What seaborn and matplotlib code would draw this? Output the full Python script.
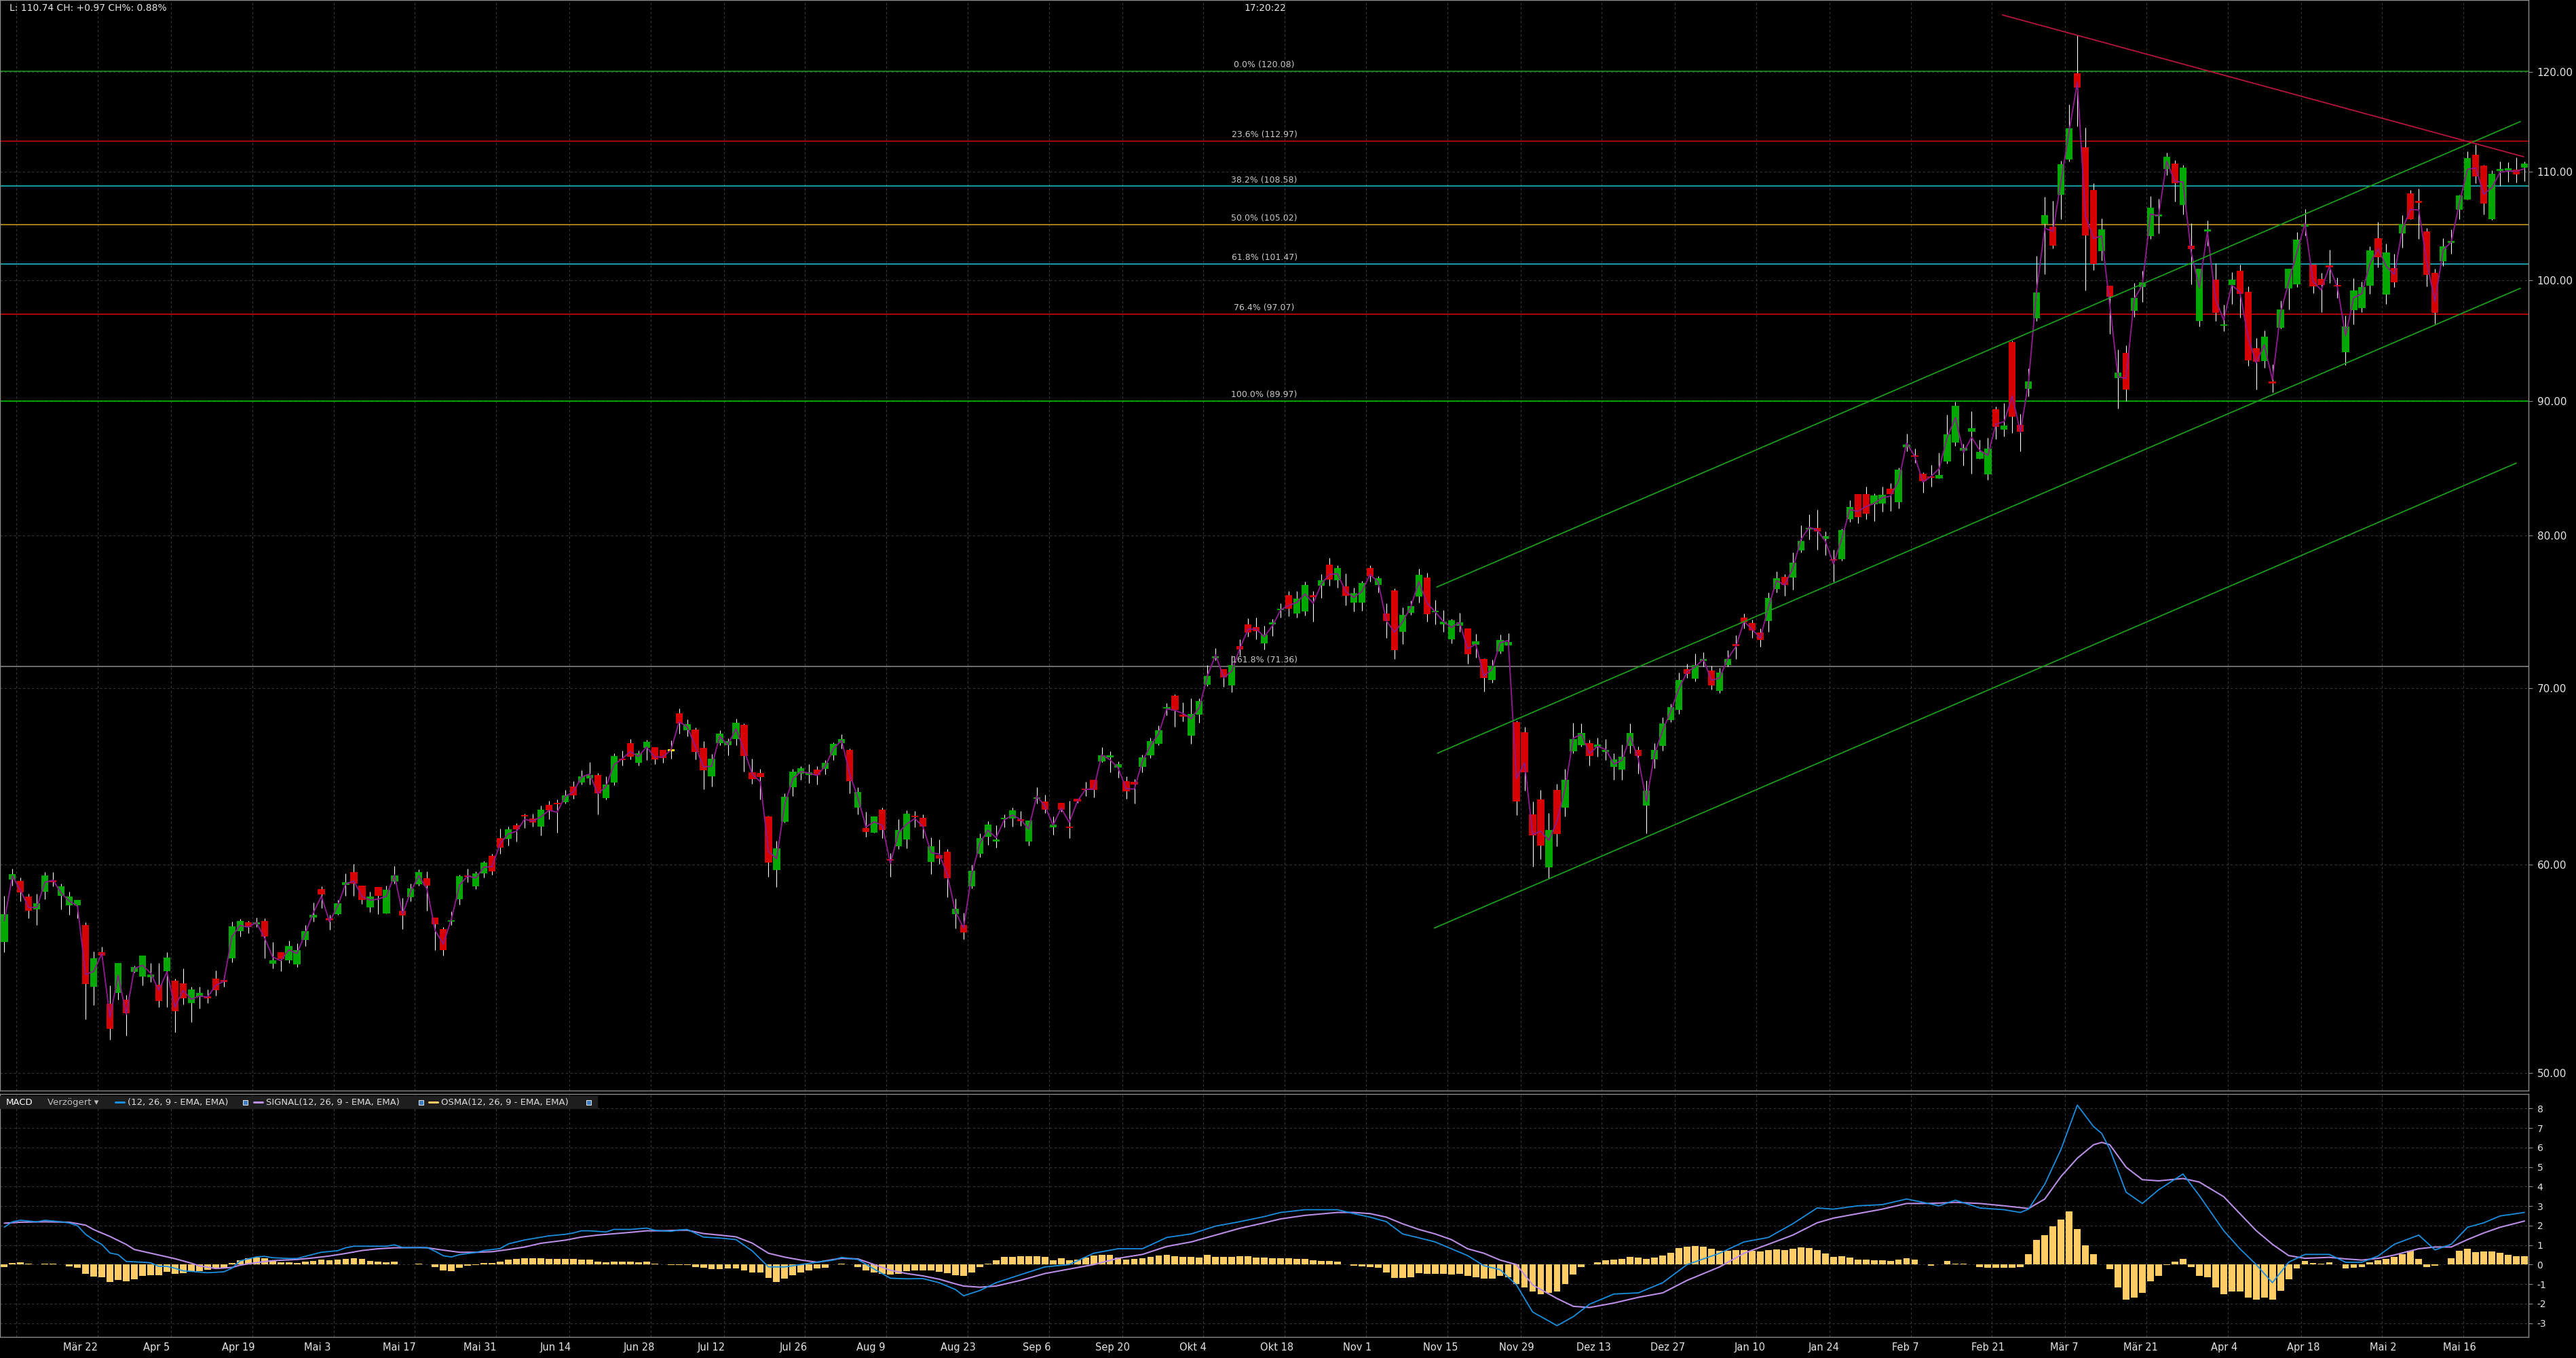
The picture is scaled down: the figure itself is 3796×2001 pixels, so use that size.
"""
Daily candlestick chart with Fibonacci levels, trend channel and MACD panel
"""

import numpy as np
import matplotlib
matplotlib.use("Agg")
import matplotlib.pyplot as plt
from matplotlib.patches import Rectangle
from matplotlib.ticker import NullLocator
import seaborn as sns

# ---------------------------------------------------------------- price data
opens = [
    56.08, 59.21, 59.14, 58.33, 57.68, 58.58, 59.18, 58.37, 57.89, 57.89,
    56.90, 53.91, 55.57, 53.11, 53.62, 53.30, 54.62, 54.39, 54.36, 54.01,
    54.65, 54.20, 54.07, 53.14, 53.43, 53.43, 54.30, 54.23, 55.27, 56.60,
    57.03, 56.93, 57.10, 55.01, 55.57, 55.17, 54.97, 56.17, 57.27, 58.72,
    57.20, 57.44, 58.93, 59.60, 58.90, 57.78, 58.82, 57.48, 59.10, 57.61,
    58.30, 58.96, 59.28, 57.27, 56.70, 57.07, 58.19, 59.42, 58.86, 59.53,
    60.45, 61.38, 61.34, 62.08, 62.64, 62.46, 62.01, 63.19, 63.27, 63.34,
    64.23, 64.46, 64.70, 64.86, 63.57, 64.46, 65.81, 66.73, 65.57, 66.44,
    66.48, 66.32, 66.24, 68.48, 67.47, 67.51, 66.44, 64.82, 66.72, 66.60,
    66.97, 67.79, 65.02, 64.98, 62.57, 59.70, 62.27, 64.19, 64.94, 64.86,
    65.17, 65.21, 66.01, 66.72, 66.32, 63.04, 61.94, 61.68, 62.96, 60.27,
    60.96, 61.31, 62.61, 62.49, 60.13, 60.49, 60.67, 57.44, 56.90, 58.86,
    60.56, 61.46, 61.23, 62.42, 62.46, 62.42, 61.23, 63.53, 63.38, 61.97,
    63.30, 61.97, 63.53, 64.11, 64.61, 65.65, 65.89, 65.29, 64.53, 64.49,
    65.33, 66.01, 66.68, 68.76, 69.53, 68.36, 67.15, 68.40, 70.20, 71.85,
    71.16, 70.16, 72.62, 74.01, 73.83, 72.80, 74.01, 74.94, 75.92, 74.72,
    74.85, 75.92, 76.56, 77.97, 76.93, 76.51, 75.44, 75.44, 77.75, 76.61,
    74.72, 76.25, 73.53, 74.76, 75.83, 77.11, 74.81, 74.01, 73.07, 73.92,
    73.75, 72.71, 71.81, 70.50, 72.27, 72.67, 67.95, 67.35, 62.68, 63.50,
    59.85, 64.03, 63.04, 66.24, 66.60, 66.72, 66.48, 66.20, 65.33, 65.17,
    66.56, 66.32, 63.15, 65.77, 66.56, 68.07, 68.68, 71.16, 70.58, 71.68,
    71.08, 69.82, 71.42, 72.75, 74.45, 74.10, 73.49, 74.23, 76.34, 77.16,
    77.11, 78.96, 80.42, 80.52, 79.76, 78.34, 78.34, 81.15, 82.93, 82.93,
    82.23, 82.28, 83.34, 82.38, 86.42, 85.80, 84.44, 84.24, 84.09, 85.33,
    86.78, 86.16, 87.61, 85.54, 84.39, 89.34, 87.76, 94.75, 88.13, 90.94,
    96.74, 105.06, 104.81, 107.77, 111.17, 119.86, 112.35, 108.22, 102.59, 99.52,
    91.81, 93.84, 97.38, 99.40, 103.94, 105.75, 110.24, 110.77, 106.82, 103.08,
    96.50, 104.38, 100.06, 96.10, 99.58, 100.84, 99.00, 94.24, 93.16, 91.49,
    95.93, 99.28, 99.64, 104.81, 101.38, 100.12, 101.26, 99.58, 93.89, 97.43,
    97.61, 99.52, 103.76, 98.76, 101.08, 104.19, 107.90, 107.08, 104.38, 100.66,
    101.68, 103.33, 106.38, 107.33, 111.63, 110.57, 105.50, 110.04, 110.11, 110.17, 110.37,
]
highs = [
    58.37, 59.77, 59.32, 58.47, 58.47, 59.60, 59.60, 59.00, 58.58, 58.16,
    57.03, 55.60, 55.84, 53.98, 55.04, 53.53, 54.90, 55.41, 55.04, 55.04,
    55.57, 54.30, 54.78, 53.91, 53.91, 53.78, 54.68, 54.46, 57.07, 57.20,
    57.10, 57.27, 57.24, 56.07, 55.57, 56.13, 56.00, 56.90, 58.02, 58.86,
    57.41, 58.16, 59.53, 60.03, 58.90, 58.58, 58.82, 58.90, 59.92, 58.26,
    59.00, 59.74, 59.63, 57.27, 56.80, 57.58, 59.46, 59.77, 59.63, 60.16,
    60.56, 61.90, 62.01, 62.20, 62.72, 62.72, 63.15, 63.42, 63.49, 64.03,
    64.53, 65.13, 65.61, 64.98, 64.82, 66.13, 66.28, 66.97, 66.28, 66.93,
    66.48, 66.32, 66.89, 68.76, 68.11, 67.63, 66.85, 66.09, 67.47, 67.01,
    68.15, 67.87, 65.81, 65.21, 62.61, 61.25, 63.84, 65.21, 65.37, 65.49,
    65.37, 65.73, 66.77, 67.23, 66.40, 64.19, 62.83, 62.57, 63.07, 60.60,
    62.42, 62.89, 62.86, 62.68, 61.42, 61.31, 60.81, 58.23, 57.51, 59.99,
    61.64, 62.31, 62.08, 62.68, 63.04, 62.86, 62.34, 64.19, 63.76, 62.57,
    63.30, 63.42, 63.53, 64.49, 64.61, 66.48, 66.24, 65.65, 64.82, 64.65,
    66.05, 67.05, 67.75, 69.09, 69.61, 69.13, 69.36, 69.36, 71.42, 72.49,
    71.16, 72.02, 73.07, 74.41, 74.45, 73.92, 74.37, 75.39, 76.20, 76.20,
    76.84, 76.20, 77.34, 78.44, 77.93, 77.39, 76.43, 76.89, 77.93, 77.21,
    75.39, 76.38, 75.12, 75.57, 77.71, 77.43, 75.61, 74.94, 74.37, 74.76,
    73.75, 73.40, 71.85, 71.76, 73.36, 73.45, 68.03, 67.67, 63.38, 64.03,
    62.75, 64.38, 65.21, 67.91, 67.87, 66.93, 67.05, 66.97, 66.13, 66.64,
    67.87, 66.52, 64.57, 66.72, 68.23, 69.05, 70.95, 71.50, 72.15, 72.23,
    71.38, 71.25, 72.36, 73.32, 74.72, 74.32, 73.75, 76.11, 77.52, 77.34,
    78.82, 80.71, 81.49, 81.83, 80.28, 79.01, 80.47, 82.52, 82.93, 83.49,
    82.98, 83.49, 83.74, 84.90, 87.45, 86.31, 84.54, 85.09, 86.00, 88.92,
    89.93, 86.68, 89.19, 86.98, 87.14, 89.55, 89.82, 94.86, 88.97, 92.58,
    102.15, 107.58, 107.21, 111.04, 116.66, 123.92, 114.30, 108.87, 105.56, 99.52,
    94.12, 94.46, 99.76, 100.84, 107.64, 107.39, 111.83, 111.10, 110.64, 105.12,
    101.02, 105.37, 101.50, 97.90, 100.72, 101.38, 99.46, 95.08, 95.70, 92.91,
    98.25, 101.02, 104.31, 106.44, 101.38, 100.66, 102.71, 100.24, 96.97, 100.18,
    99.88, 103.02, 105.25, 103.26, 102.34, 105.88, 108.22, 108.35, 104.69, 101.02,
    103.76, 104.56, 107.77, 111.96, 112.63, 110.64, 110.11, 110.97, 110.90, 111.37, 110.97,
]
lows = [
    55.57, 58.90, 58.09, 57.24, 56.90, 58.19, 58.86, 57.68, 57.41, 57.24,
    52.40, 53.06, 55.24, 51.47, 53.30, 51.65, 54.59, 53.98, 54.14, 52.96,
    52.96, 51.80, 53.08, 52.27, 52.90, 53.14, 53.49, 53.91, 55.08, 56.33,
    56.50, 56.80, 55.27, 54.78, 54.65, 55.04, 54.84, 55.87, 57.07, 57.75,
    56.66, 57.41, 58.37, 58.37, 57.96, 57.55, 57.44, 57.48, 59.00, 56.70,
    58.09, 58.90, 57.61, 55.67, 55.41, 56.90, 57.92, 59.07, 58.72, 59.32,
    59.46, 60.56, 61.00, 61.23, 61.94, 62.01, 61.53, 62.42, 61.68, 63.27,
    63.53, 64.34, 64.34, 62.68, 63.50, 64.30, 65.41, 65.77, 65.41, 65.73,
    65.49, 65.57, 65.81, 67.27, 67.11, 65.77, 64.07, 64.23, 66.60, 66.00,
    66.60, 65.09, 64.38, 63.50, 59.35, 58.82, 62.23, 63.69, 64.61, 64.42,
    64.34, 64.90, 65.73, 66.40, 63.84, 62.68, 61.46, 61.68, 61.38, 59.35,
    60.81, 60.85, 61.97, 61.38, 59.49, 60.02, 58.30, 56.73, 56.20, 58.75,
    60.38, 61.04, 60.89, 61.97, 62.01, 62.05, 61.00, 63.27, 62.75, 61.57,
    62.83, 61.38, 63.30, 63.69, 63.61, 65.61, 65.02, 64.74, 63.53, 63.27,
    65.05, 65.85, 66.60, 68.36, 67.67, 67.99, 66.68, 67.91, 70.12, 71.72,
    70.08, 69.74, 72.02, 73.23, 73.07, 72.41, 73.27, 74.45, 74.54, 74.45,
    74.59, 74.19, 75.74, 76.56, 76.43, 75.26, 74.85, 74.90, 76.84, 76.11,
    73.15, 71.81, 72.75, 74.63, 75.44, 74.19, 74.01, 73.53, 72.80, 73.53,
    71.50, 71.89, 69.78, 70.33, 72.15, 72.62, 62.64, 64.00, 59.88, 60.27,
    59.25, 60.96, 62.57, 66.13, 66.52, 65.41, 65.91, 65.73, 64.61, 64.61,
    66.13, 64.94, 61.64, 65.25, 66.28, 67.95, 68.44, 70.62, 70.41, 71.33,
    69.91, 69.70, 71.33, 71.81, 73.75, 73.15, 72.58, 73.53, 76.11, 75.88,
    76.29, 78.82, 79.72, 79.01, 78.63, 76.84, 78.25, 80.95, 80.86, 81.15,
    81.00, 81.68, 81.73, 81.93, 86.11, 85.24, 83.07, 83.49, 84.09, 85.19,
    86.52, 85.04, 84.44, 85.54, 83.99, 87.04, 87.24, 87.50, 86.11, 90.35,
    96.50, 100.54, 102.83, 105.50, 110.97, 114.43, 99.10, 100.90, 101.74, 95.42,
    89.39, 89.98, 96.86, 98.13, 103.70, 104.19, 109.65, 107.14, 105.94, 99.64,
    96.04, 103.08, 96.50, 95.64, 97.96, 96.80, 92.80, 90.89, 92.64, 90.68,
    95.87, 97.49, 99.40, 104.01, 98.88, 97.26, 99.76, 98.48, 92.86, 96.21,
    97.26, 98.82, 101.14, 97.96, 99.40, 102.90, 105.50, 103.70, 99.46, 96.27,
    101.26, 102.34, 105.50, 107.33, 108.87, 105.94, 105.44, 108.61, 109.00, 108.94, 109.06,
]
closes = [
    57.44, 59.49, 58.54, 57.61, 57.99, 59.42, 59.07, 58.86, 58.33, 58.16,
    54.04, 55.27, 55.41, 51.96, 55.04, 52.68, 54.84, 55.41, 54.49, 53.24,
    55.31, 52.77, 53.37, 53.78, 53.62, 53.37, 53.75, 54.14, 56.84, 57.10,
    56.80, 57.03, 56.33, 55.17, 55.24, 55.87, 55.67, 56.60, 57.41, 58.44,
    57.14, 57.99, 59.07, 59.00, 58.16, 58.33, 58.37, 58.68, 59.42, 57.37,
    58.75, 59.60, 58.90, 56.93, 55.67, 57.14, 59.39, 59.35, 59.53, 60.09,
    59.63, 60.89, 61.86, 61.86, 62.57, 62.23, 62.96, 62.89, 63.23, 63.73,
    63.73, 64.82, 64.86, 63.84, 64.34, 65.97, 65.73, 65.91, 66.13, 66.81,
    65.77, 65.85, 66.24, 67.87, 67.83, 66.20, 65.13, 65.81, 67.27, 66.85,
    67.91, 65.97, 64.63, 64.78, 60.09, 60.85, 63.65, 65.09, 65.25, 65.05,
    64.86, 65.57, 66.68, 66.97, 64.53, 63.92, 61.72, 62.57, 61.83, 60.20,
    61.83, 62.72, 62.53, 62.01, 60.96, 60.31, 59.28, 57.72, 56.53, 59.67,
    61.38, 62.12, 61.27, 62.49, 62.89, 62.31, 62.34, 63.61, 62.96, 62.12,
    62.96, 61.94, 63.38, 64.03, 64.03, 66.01, 66.01, 65.49, 63.96, 64.34,
    65.89, 66.85, 67.47, 68.80, 68.68, 68.28, 68.44, 69.21, 70.77, 71.98,
    70.66, 71.42, 72.41, 73.49, 73.58, 73.36, 74.14, 75.03, 75.03, 75.70,
    76.61, 75.79, 76.93, 76.98, 77.75, 75.88, 76.06, 76.75, 77.21, 77.07,
    74.23, 72.36, 74.63, 75.21, 77.30, 74.68, 74.90, 74.19, 74.28, 74.14,
    72.10, 72.93, 70.62, 71.38, 73.01, 72.88, 63.38, 65.05, 61.53, 61.00,
    61.83, 61.60, 64.61, 66.97, 67.31, 65.97, 66.64, 66.32, 65.77, 65.93,
    67.31, 65.97, 64.00, 66.32, 67.87, 68.84, 70.50, 70.87, 71.42, 71.81,
    70.16, 70.95, 71.81, 72.62, 74.14, 73.62, 73.01, 75.74, 77.07, 76.61,
    78.11, 79.62, 80.52, 80.28, 79.95, 78.25, 80.38, 82.03, 81.30, 81.54,
    82.83, 82.88, 82.93, 84.74, 86.62, 85.70, 83.89, 84.14, 84.34, 87.40,
    89.61, 86.37, 87.87, 86.06, 86.31, 87.97, 88.08, 88.76, 87.61, 91.54,
    98.92, 105.88, 103.08, 110.71, 114.23, 118.37, 104.01, 101.44, 104.56, 98.60,
    92.25, 90.89, 98.48, 99.82, 106.57, 105.88, 111.43, 108.87, 110.37, 102.77,
    101.02, 104.50, 97.20, 96.21, 100.06, 98.82, 93.22, 93.11, 95.19, 91.38,
    97.49, 101.02, 103.64, 104.87, 99.46, 99.58, 101.14, 99.46, 96.04, 99.10,
    99.40, 102.65, 102.03, 102.47, 99.82, 105.06, 105.50, 107.01, 100.48, 97.20,
    103.02, 103.39, 107.70, 111.30, 109.52, 106.95, 109.78, 110.17, 110.24, 109.72, 110.74,
]

# ---------------------------------------------------------------- MACD data
osma = [
    -0.13, 0.07, 0.12, 0.05, 0.00, 0.05, 0.05, 0.00, -0.09, -0.16,
    -0.48, -0.63, -0.65, -0.88, -0.79, -0.86, -0.77, -0.58, -0.56, -0.56,
    -0.36, -0.48, -0.44, -0.32, -0.32, -0.28, -0.19, -0.16, 0.09, 0.22,
    0.31, 0.37, 0.34, 0.20, 0.12, 0.12, 0.09, 0.14, 0.20, 0.26,
    0.22, 0.26, 0.30, 0.32, 0.28, 0.19, 0.14, 0.10, 0.14, 0.00,
    0.00, 0.05, 0.00, -0.13, -0.30, -0.34, -0.16, -0.07, -0.03, 0.08,
    0.08, 0.15, 0.24, 0.29, 0.32, 0.32, 0.32, 0.29, 0.29, 0.29,
    0.28, 0.26, 0.26, 0.15, 0.12, 0.15, 0.15, 0.15, 0.12, 0.14,
    0.05, 0.02, -0.02, -0.02, -0.02, -0.12, -0.17, -0.23, -0.23, -0.21,
    -0.21, -0.29, -0.41, -0.41, -0.70, -0.88, -0.72, -0.56, -0.41, -0.29,
    -0.21, -0.17, 0.00, 0.06, 0.00, -0.12, -0.29, -0.41, -0.46, -0.52,
    -0.46, -0.35, -0.29, -0.29, -0.29, -0.37, -0.44, -0.56, -0.58, -0.41,
    -0.12, 0.06, 0.23, 0.41, 0.41, 0.44, 0.44, 0.44, 0.41, 0.23,
    0.32, 0.23, 0.26, 0.35, 0.46, 0.49, 0.49, 0.35, 0.26, 0.29,
    0.32, 0.41, 0.46, 0.49, 0.44, 0.41, 0.41, 0.37, 0.49, 0.41,
    0.41, 0.41, 0.44, 0.44, 0.35, 0.35, 0.32, 0.32, 0.32,
    0.29, 0.29, 0.23, 0.17, 0.17, 0.15, 0.00, -0.06, -0.09, -0.12,
    -0.17, -0.41, -0.67, -0.67, -0.64, -0.44, -0.46, -0.46, -0.49, -0.52,
    -0.49, -0.58, -0.64, -0.72, -0.72, -0.58, -0.64, -0.99, -1.16, -1.39,
    -1.51, -1.45, -1.39, -0.99, -0.52, -0.12, 0.00, 0.12, 0.21, 0.26,
    0.29, 0.41, 0.35, 0.29, 0.35, 0.46, 0.60, 0.83, 0.90, 0.95,
    0.90, 0.81, 0.72, 0.72, 0.75, 0.75, 0.72, 0.67, 0.75, 0.79,
    0.75, 0.81, 0.87, 0.83, 0.75, 0.58, 0.41, 0.44, 0.35, 0.26,
    0.26, 0.23, 0.21, 0.17, 0.26, 0.32, 0.26, 0.00, -0.06, 0.00,
    0.17, 0.06, 0.03, 0.00, -0.12, -0.17, -0.15, -0.15, -0.17, -0.12,
    0.52, 1.28, 1.51, 1.97, 2.32, 2.72, 1.83, 0.99, 0.52, 0.00,
    -0.23, -1.16, -1.80, -1.68, -1.45, -0.87, -0.58, -0.02, 0.14, 0.29,
    -0.12, -0.58, -0.64, -1.16, -1.51, -1.39, -1.39, -1.68, -1.80, -1.68,
    -1.80, -1.33, -0.75, -0.21, 0.17, 0.09, 0.06, 0.12, 0.00, -0.21,
    -0.17, -0.12, 0.12, 0.23, 0.29, 0.38, 0.52, 0.70, 0.29, -0.12,
    -0.06, 0.00, 0.32, 0.72, 0.81, 0.64, 0.67, 0.66, 0.60, 0.49,
    0.44, 0.44,
]
macd_x = [
    0, 1, 2, 4, 5, 7, 8, 9, 10, 11, 12, 13, 14, 15, 16, 17, 18, 19, 20, 21,
    22, 23, 25, 27, 28, 29, 31, 32, 33, 35, 36, 37, 39, 41, 42, 43, 45, 47, 48, 49,
    51, 52, 53, 54, 55, 56, 58, 59, 61, 62, 64, 65, 66, 67, 69, 70, 71, 72, 74, 75,
    77, 79, 80, 82, 83,
    84, 86, 88, 90, 92, 94, 96, 98, 100, 102, 103, 105, 107, 109, 111, 113, 115, 117,
    118, 120, 122, 125, 128, 131, 134, 137, 140, 143, 146, 149, 152, 155, 157, 160,
    164, 166, 168, 170, 172, 174, 176, 178, 180, 182, 184, 186, 188, 191, 193, 195,
    198, 201, 204, 207, 211, 214, 217, 220, 223, 225, 228, 231, 234, 236, 238, 240,
    243, 246, 248, 249, 251, 253, 255, 257, 258, 259, 261, 263, 265, 268, 270, 273,
    275, 277, 279, 281, 283, 286, 288, 290, 292, 294, 297, 299, 301, 303, 305, 307, 310,
]
macd_line = [
    1.92, 2.19, 2.27, 2.19, 2.27, 2.19, 2.13, 1.99, 1.55, 1.26, 1.03, 0.59, 0.51, 0.16,
    0.14, 0.12, 0.09, -0.09, -0.09, -0.19, -0.32, -0.35, -0.42, -0.37, -0.19, 0.19,
    0.39, 0.42, 0.35, 0.31, 0.31, 0.42, 0.63, 0.71, 0.86, 0.94, 0.94, 0.94, 1.01, 0.87,
    0.87, 0.87, 0.68, 0.45, 0.39, 0.51, 0.62, 0.72, 0.82, 1.06, 1.26, 1.33, 1.40, 1.47,
    1.55, 1.62, 1.73, 1.73, 1.67, 1.80, 1.80, 1.87, 1.76, 1.70, 1.77,
    1.80, 1.41, 1.36, 1.28, 0.70, -0.12, -0.12, 0.00, 0.12, 0.23, 0.37, 0.26, -0.23,
    -0.70, -0.73, -0.72, -0.93, -1.28, -1.60, -1.33, -0.93, -0.52, -0.12, 0.00, 0.58,
    0.81, 0.81, 1.39, 1.57, 1.97, 2.20, 2.46, 2.67, 2.81, 2.81, 2.61, 2.43, 2.20, 1.57,
    1.37, 1.16, 0.81, 0.46, -0.06, -0.26, -1.04, -2.43, -3.13, -2.67, -2.03, -1.51,
    -1.45, -0.93, 0.00, 0.58, 1.16, 1.39, 2.09, 2.90, 2.84, 3.01, 3.07, 3.36, 3.19,
    3.01, 3.30, 2.90, 2.81, 2.67, 2.84, 4.12, 5.91, 8.17, 7.07, 6.72, 5.91, 3.71, 3.13,
    3.83, 4.64, 3.54, 1.74, 0.81, 0.00, -0.93, 0.12, 0.52, 0.52, 0.12, 0.12, 0.44, 1.04,
    1.51, 0.75, 1.04, 1.91, 2.14, 2.49, 2.67,
]
signal_x = [
    0, 2, 5, 8, 10, 11, 13, 15, 16, 19, 21, 23, 24, 26, 28, 29, 31, 33, 36, 38,
    40, 42, 44, 46, 48, 51, 52, 54, 56, 58, 60, 62, 64, 66, 69, 71, 73, 75, 77, 79,
    81, 83,
    84, 86, 88, 90, 92, 94, 96, 98, 100, 102, 103, 105, 107, 109, 111, 113, 115, 117,
    118, 120, 122, 125, 128, 131, 134, 137, 140, 143, 146, 149, 152, 155, 157, 160,
    164, 166, 168, 170, 172, 174, 176, 178, 180, 182, 184, 186, 188, 191, 193, 195,
    198, 201, 204, 207, 211, 214, 217, 220, 223, 225, 228, 231, 234, 236, 238, 240,
    243, 246, 248, 249, 251, 253, 255, 257, 258, 259, 261, 263, 265, 268, 270, 273,
    275, 277, 279, 281, 283, 286, 288, 290, 292, 294, 297, 299, 301, 303, 305, 307, 310,
]
signal_line = [
    2.12, 2.17, 2.19, 2.17, 2.02, 1.79, 1.44, 1.03, 0.77, 0.49, 0.30, 0.07, -0.07,
    -0.20, -0.15, -0.03, 0.10, 0.20, 0.26, 0.34, 0.44, 0.57, 0.72, 0.81, 0.86, 0.87,
    0.86, 0.74, 0.63, 0.63, 0.66, 0.77, 0.90, 1.09, 1.25, 1.41, 1.51, 1.58, 1.65, 1.73,
    1.73, 1.76,
    1.76, 1.59, 1.51, 1.42, 1.10, 0.58, 0.38, 0.23, 0.12, 0.26, 0.32, 0.29, 0.00,
    -0.29, -0.46, -0.58, -0.75, -0.99, -1.10, -1.16, -1.10, -0.81, -0.46, -0.23, 0.00,
    0.32, 0.52, 0.93, 1.16, 1.51, 1.86, 2.14, 2.34, 2.52, 2.67, 2.67, 2.61, 2.43, 2.09,
    1.80, 1.57, 1.28, 0.81, 0.58, 0.23, 0.00, -1.04, -1.74, -2.14, -2.20, -1.97, -1.68,
    -1.45, -0.81, -0.12, 0.58, 1.04, 1.51, 2.14, 2.38, 2.61, 2.84, 3.13, 3.13, 3.15,
    3.19, 3.13, 3.01, 2.92, 2.87, 3.36, 4.52, 5.45, 6.14, 6.26, 6.14, 4.99, 4.35, 4.29,
    4.41, 4.23, 3.48, 2.61, 1.74, 1.04, 0.46, 0.32, 0.37, 0.29, 0.23, 0.32, 0.49, 0.81,
    0.90, 0.90, 1.28, 1.62, 1.91, 2.23,
]

# ---------------------------------------------------------------- drawings
fib_levels = [120.08, 112.97, 108.58, 105.02, 101.47, 97.07, 89.97, 71.36]
fib_names = ["0.0% (120.08)", "23.6% (112.97)", "38.2% (108.58)", "50.0% (105.02)",
             "61.8% (101.47)", "76.4% (97.07)", "100.0% (89.97)", "161.8% (71.36)"]
channel_upper = ([176.2, 309.5], [76.47, 114.90])
channel_mid = ([176.3, 309.5], [66.13, 99.31])
channel_low = ([175.9, 309.0], [56.75, 85.23])
trend_down = ([245.8, 309.9], [126.13, 111.42])

price_ticks = [50, 60, 70, 80, 90, 100, 110, 120]
macd_ticks = [-3, -2, -1, 0, 1, 2, 3, 4, 5, 6, 7, 8]
week_lines = [1.5, 11.5, 20.5, 30.5, 40.5, 50.5, 60.5, 69.5, 79.5, 88.5, 98.5,
              108.5, 118.5, 128.5, 137.5, 147.5, 157.5, 167.5, 177.5, 186.5,
              196.5, 205.5, 215.5, 224.5, 234.5, 244.5, 253.5, 263.5, 273.5,
              282.5, 292.5, 302.5]
date_pos = [9.4, 18.7, 28.8, 38.5, 48.6, 58.5, 67.8, 78.1, 87.0, 97.1, 106.6,
            117.3, 127.0, 136.3, 146.2, 156.5, 166.4, 176.7, 186.0, 195.5,
            204.6, 214.7, 223.8, 233.9, 244.0, 253.4, 262.8, 273.1, 282.8,
            292.6, 302.0]
date_names = ["Mär 22", "Apr 5", "Apr 19", "Mai 3", "Mai 17", "Mai 31", "Jun 14",
              "Jun 28", "Jul 12", "Jul 26", "Aug 9", "Aug 23", "Sep 6", "Sep 20",
              "Okt 4", "Okt 18", "Nov 1", "Nov 15", "Nov 29", "Dez 13", "Dez 27",
              "Jan 10", "Jan 24", "Feb 7", "Feb 21", "Mär 7", "Mär 21", "Apr 4",
              "Apr 18", "Mai 2", "Mai 16"]

# ---------------------------------------------------------------- style
W, H = 3796, 2001
GRID = "#363636"
EDGE = "#8a8a8a"
TXT = "#e4e4e4"

sns.set_theme(style="dark", rc={
    "figure.facecolor": "black", "axes.facecolor": "black",
    "axes.edgecolor": EDGE, "axes.linewidth": 1.0,
    "text.color": TXT, "xtick.color": TXT, "ytick.color": TXT,
})
plt.rcParams["font.family"] = ["DejaVu Sans"]


def fx(x):
    return x / W


def fy(y):
    return 1 - y / H


fig = plt.figure(figsize=(W / 100, H / 100), dpi=100)
ax = fig.add_axes([0, fy(1607), fx(3726), 1607 / H])
mx = fig.add_axes([0, fy(1970), fx(3726), (1970 - 1612) / H])

# ---------------------------------------------------------------- candles
idx = np.arange(len(closes))
o = np.array(opens)
hi = np.array(highs)
lo = np.array(lows)
c = np.array(closes)
body_col = np.where(c > o, "#00a800", np.where(c < o, "#d60000", "#ffee00"))

ax.set_yscale("log")
ax.vlines(idx, lo, hi, color="white", lw=0.8, zorder=3)
bot = np.minimum(o, c)
top = np.maximum(np.maximum(o, c), bot * 1.0015)
ax.bar(idx, top - bot, bottom=bot, width=0.86, color=body_col, linewidth=0, zorder=4)
sns.lineplot(x=idx, y=(hi + lo + c) / 3, ax=ax, color="#8c1a8c", linewidth=1.4,
             zorder=5, legend=False)

# fibonacci retracement
fib_cols = ["#22a022", "#d00000", "#20c4c4", "#d0a020", "#20c4d0", "#e00000",
            "#00d000", "#8c8c8c"]
for lvl, name, colr in zip(fib_levels, fib_names, fib_cols):
    ax.axhline(lvl, color=colr, lw=1.1, zorder=2)
    ax.annotate(name, (155.0, lvl), xytext=(0, 2), textcoords="offset points",
                ha="center", va="bottom", fontsize=9, color="#c8c8c8", zorder=7)

# trend channel and falling resistance
for xs, ys in (channel_upper, channel_mid, channel_low):
    ax.plot(xs, ys, color="#1c9c1c", lw=1.3, zorder=6)
ax.plot(*trend_down, color="#b8143c", lw=1.3, zorder=6)

ax.set_xlim(-0.53, 310.5)
ax.set_ylim(49.23, 127.79)
ax.yaxis.tick_right()
ax.set_yticks(price_ticks)
ax.set_yticklabels([f"{t:.2f}" for t in price_ticks])
ax.yaxis.set_minor_locator(NullLocator())
ax.tick_params(axis="y", which="major", length=4, width=0.8, color=EDGE, pad=5,
               labelsize=11, labelcolor=TXT)
ax.set_xticks(week_lines)
ax.tick_params(axis="x", length=0, labelbottom=False)
ax.grid(True, color=GRID, linestyle=(0, (3, 3)), linewidth=0.8)
ax.set_axisbelow(True)
ax.set_xlabel("")
ax.set_ylabel("")
for s in ax.spines.values():
    s.set_color(EDGE)

# ---------------------------------------------------------------- MACD panel
mx.bar(idx, osma, width=0.82, color="#ffcc66", linewidth=0, zorder=2)
sns.lineplot(x=signal_x, y=signal_line, ax=mx, color="#b98ee6", linewidth=1.5,
             zorder=3, legend=False)
sns.lineplot(x=macd_x, y=macd_line, ax=mx, color="#1a8fe0", linewidth=1.3,
             zorder=4, legend=False)
mx.set_xlim(-0.53, 310.5)
mx.set_ylim(-3.71, 8.74)
mx.yaxis.tick_right()
mx.set_yticks(macd_ticks)
mx.set_yticklabels([str(t) for t in macd_ticks])
mx.tick_params(axis="y", length=4, width=0.8, color=EDGE, pad=5, labelsize=10,
               labelcolor=TXT)
mx.xaxis.remove_overlapping_locs = False
mx.set_xticks(week_lines)
mx.set_xticklabels([])
mx.tick_params(axis="x", which="major", length=3, width=0.8, color=EDGE)
mx.set_xticks(date_pos, minor=True)
mx.set_xticklabels(date_names, minor=True)
mx.tick_params(axis="x", which="minor", length=0, pad=6, labelsize=10.5,
               labelcolor=TXT)
mx.grid(True, which="major", color=GRID, linestyle=(0, (3, 3)), linewidth=0.8)
mx.grid(False, which="minor")
mx.set_axisbelow(True)
mx.set_xlabel("")
mx.set_ylabel("")
for s in mx.spines.values():
    s.set_color(EDGE)

# legend strip of the MACD panel
fig.add_artist(Rectangle((0, fy(1633)), fx(880), 18 / H, transform=fig.transFigure,
                         color="#1e1e1e", zorder=5))
ly = fy(1624)
fig.text(fx(9), ly, "MACD", fontsize=9.5, color="white", va="center", zorder=6)
fig.text(fx(70), ly, "Verzögert \u25be", fontsize=9.5, color="#bdbdbd", va="center",
         zorder=6)
legend_items = [(170, "#1a8fe0", "(12, 26, 9 - EMA, EMA)", 358),
                (374, "#b98ee6", "SIGNAL(12, 26, 9 - EMA, EMA)", 617),
                (632, "#ffcc66", "OSMA(12, 26, 9 - EMA, EMA)", 864)]
for x0, colr, label, box_x in legend_items:
    fig.add_artist(plt.Line2D([fx(x0), fx(x0 + 13)], [ly, ly], color=colr, lw=2.2,
                              transform=fig.transFigure, zorder=6))
    fig.text(fx(x0 + 18), ly, label, fontsize=9.5, color="#dcdcdc", va="center", zorder=6)
    fig.add_artist(Rectangle((fx(box_x), fy(1628)), fx(7), 7 / H, transform=fig.transFigure,
                             facecolor="#3d7fc4", edgecolor="white", lw=0.6, zorder=6))

# header
fig.text(fx(14), fy(12), "L: 110.74 CH: +0.97 CH%: 0.88%", fontsize=10, color=TXT,
         va="center")
fig.text(fx(1864), fy(12), "17:20:22", fontsize=10, color=TXT, va="center", ha="center")

fig.savefig("out.png", dpi=100, facecolor="black")
